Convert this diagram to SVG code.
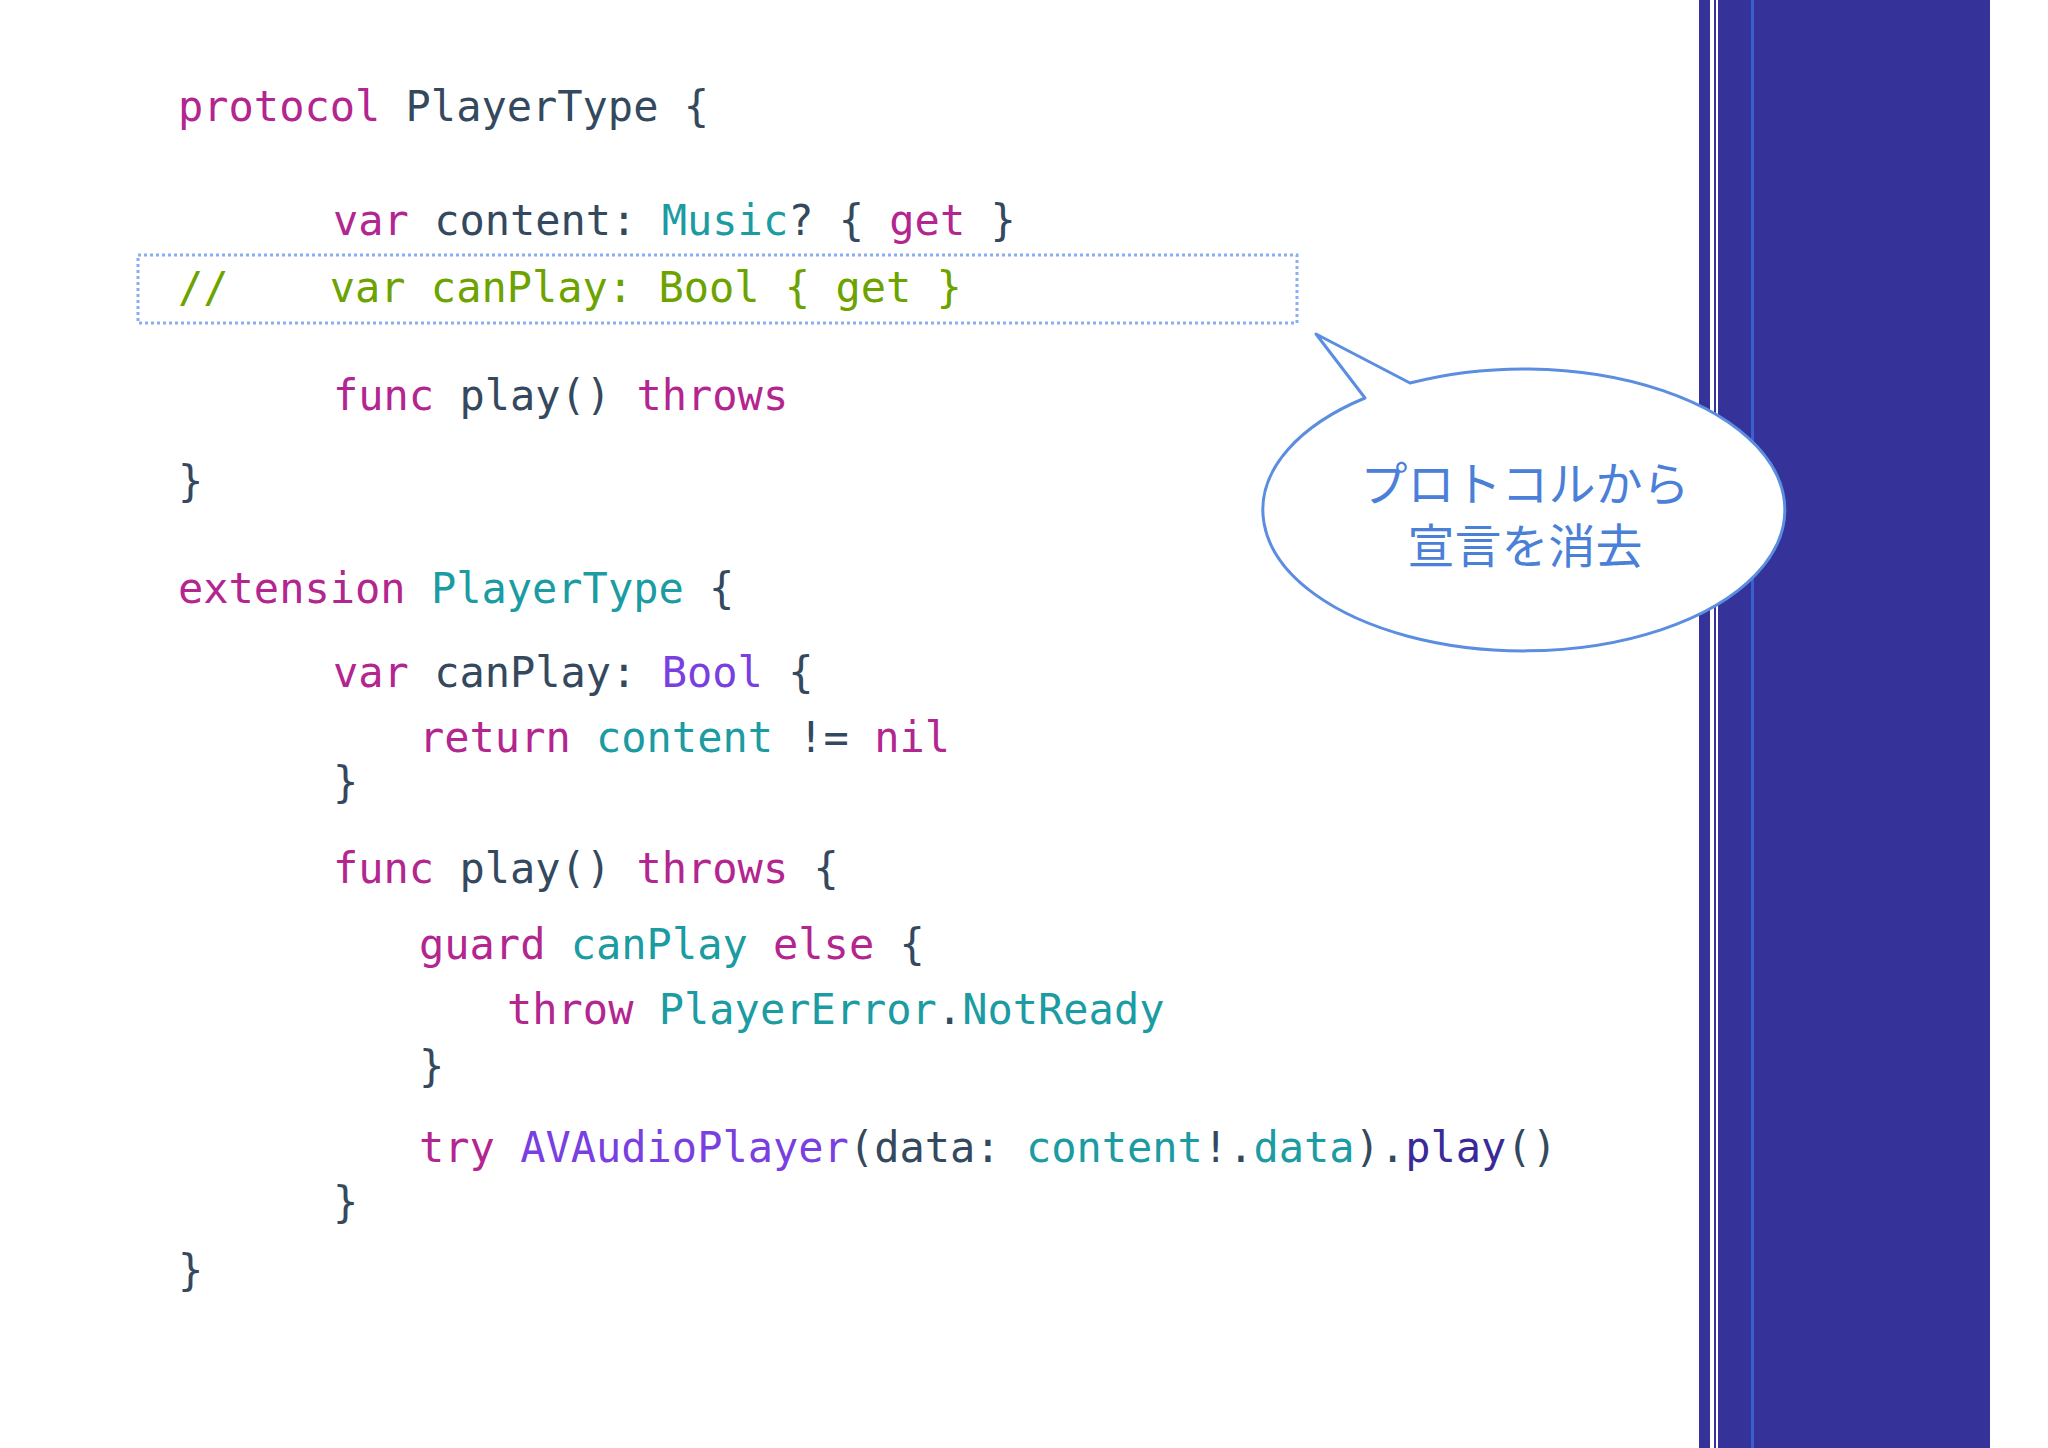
<svg xmlns="http://www.w3.org/2000/svg" width="2048" height="1448" viewBox="0 0 2048 1448">
<style>
text{font-family:"DejaVu Sans Mono","Liberation Mono",monospace;font-size:42px;fill:#34495e;white-space:pre}
.k{fill:#b3258f}.t{fill:#1b9ba2}.p{fill:#7a3fe0}.g{fill:#6ca300}.d{fill:#3a2a98}
.jp{font-family:"Noto Sans CJK JP",sans-serif;font-size:47px;fill:#4a80d8;text-anchor:middle}
</style>
<rect width="2048" height="1448" fill="#ffffff"/>
<g id="panel">
<rect x="1699" y="0" width="291" height="1448" fill="#35339a"/>
<rect x="1710" y="0" width="4" height="1448" fill="#ffffff"/>
<rect x="1716" y="0" width="2" height="1448" fill="#ffffff"/>
<rect x="1751" y="0" width="3" height="1448" fill="#3b5fd0"/>
</g>
<g id="code" xml:space="preserve">
<text x="178" y="121"><tspan class="k">protocol</tspan> PlayerType {</text>
<text x="333" y="235"><tspan class="k">var</tspan> content: <tspan class="t">Music</tspan>? { <tspan class="k">get</tspan> }</text>
<text x="178" y="302" class="g">//    var canPlay: Bool { get }</text>
<text x="333" y="410"><tspan class="k">func</tspan> play() <tspan class="k">throws</tspan></text>
<text x="178" y="496">}</text>
<text x="178" y="603"><tspan class="k">extension</tspan> <tspan class="t">PlayerType</tspan> {</text>
<text x="333" y="687"><tspan class="k">var</tspan> canPlay: <tspan class="p">Bool</tspan> {</text>
<text x="419" y="752"><tspan class="k">return</tspan> <tspan class="t">content</tspan> != <tspan class="k">nil</tspan></text>
<text x="333" y="797">}</text>
<text x="333" y="883"><tspan class="k">func</tspan> play() <tspan class="k">throws</tspan> {</text>
<text x="419" y="959"><tspan class="k">guard</tspan> <tspan class="t">canPlay</tspan> <tspan class="k">else</tspan> {</text>
<text x="507" y="1024"><tspan class="k">throw</tspan> <tspan class="t">PlayerError</tspan>.<tspan class="t">NotReady</tspan></text>
<text x="419" y="1081">}</text>
<text x="419" y="1162"><tspan class="k">try</tspan> <tspan class="p">AVAudioPlayer</tspan>(data: <tspan class="t">content</tspan>!.<tspan class="t">data</tspan>).<tspan class="d">play</tspan>()</text>
<text x="333" y="1217">}</text>
<text x="178" y="1285">}</text>
</g>
<g id="highlight">
<rect x="138" y="255" width="1159" height="68" fill="none" stroke="#8aaef0" stroke-width="3" stroke-dasharray="3 3"/>
</g>
<g id="callout">
<path d="M1410,383 L1316,334 L1365,398 A261,141 0 1,0 1410,383 Z" fill="#ffffff" stroke="#5b8de0" stroke-width="3" stroke-linejoin="round"/>
<text class="jp" x="1525" y="501">プロトコルから</text>
<text class="jp" x="1525" y="563">宣言を消去</text>
</g>
</svg>
